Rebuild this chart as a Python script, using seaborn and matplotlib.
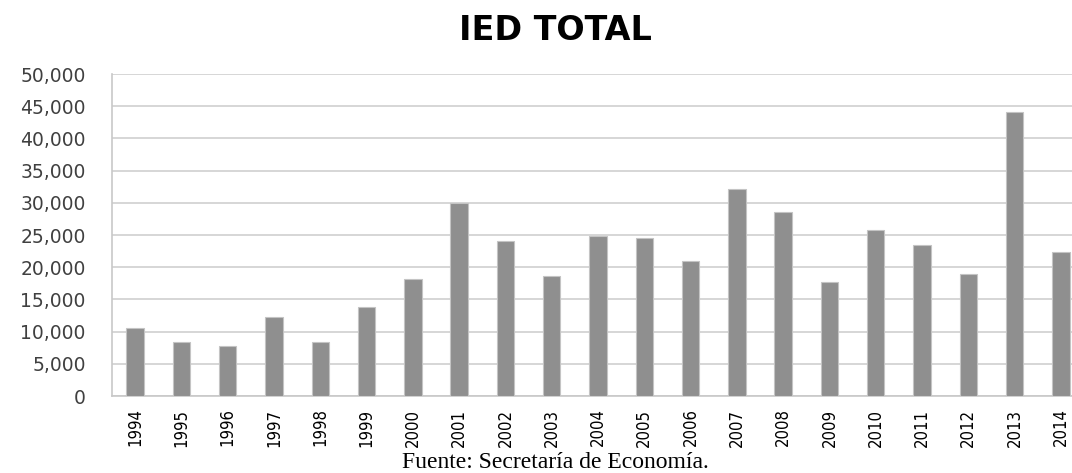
import matplotlib
matplotlib.use("Agg")
import pandas as pd
import seaborn as sns
import matplotlib.pyplot as plt
from matplotlib.ticker import FuncFormatter

# Datos: IED total por año (millones de dólares)
anios = ["1994", "1995", "1996", "1997", "1998", "1999", "2000", "2001", "2002", "2003", "2004",
         "2005", "2006", "2007", "2008", "2009", "2010", "2011", "2012", "2013", "2014"]
ied = [10600, 8350, 7800, 12200, 8350, 13800, 18200, 29900, 24000, 18700, 24900,
       24500, 20900, 32200, 28500, 17650, 25800, 23400, 18900, 44050, 22400]

df = pd.DataFrame({"anio": anios, "ied": ied})

sns.set_theme(style="white")
plt.rcParams["font.family"] = ["DejaVu Sans"]

fig = plt.figure(figsize=(10.72, 4.73), dpi=100)
ax = fig.add_axes([112 / 1072, 1 - 396 / 473, 960 / 1072, 322 / 473])

sns.barplot(data=df, x="anio", y="ied", color="#8f8f8f", saturation=1, width=0.375,
            edgecolor="#c4c4c4", linewidth=0.8, ax=ax, zorder=3)

ax.set_ylim(0, 50000)
ax.set_xlim(-0.5, 20.24)
ax.set_yticks(range(0, 50001, 5000))
ax.yaxis.set_major_formatter(FuncFormatter(lambda v, p: f"{int(v):,}"))
ax.grid(axis="y", color="#d0d0d0", linewidth=1.2, zorder=0)
ax.set_axisbelow(True)
ax.set_xlabel("")
ax.set_ylabel("")

for s in ["top", "right"]:
    ax.spines[s].set_visible(False)
for s in ["left", "bottom"]:
    ax.spines[s].set_color("#c8c8c8")
    ax.spines[s].set_linewidth(1.2)

ax.tick_params(axis="y", length=0, pad=19, labelsize=13.5, labelcolor="#404040")
ax.tick_params(axis="x", length=0, pad=9)
for lbl in ax.get_xticklabels():
    lbl.set_rotation(90)
    lbl.set_family("DejaVu Sans")
    lbl.set_stretch("condensed")
    lbl.set_fontsize(12)
    lbl.set_color("black")

fig.text(555 / 1072, 1 - 31 / 473, "IED TOTAL", ha="center", va="center",
         fontsize=24, fontweight="bold", color="black")
fig.text(555 / 1072, 1 - 468 / 473, "Fuente: Secretaría de Economía.", ha="center",
         va="baseline", fontsize=17, family=["Liberation Serif", "DejaVu Serif"], color="black")

plt.savefig("out.png", dpi=100)
